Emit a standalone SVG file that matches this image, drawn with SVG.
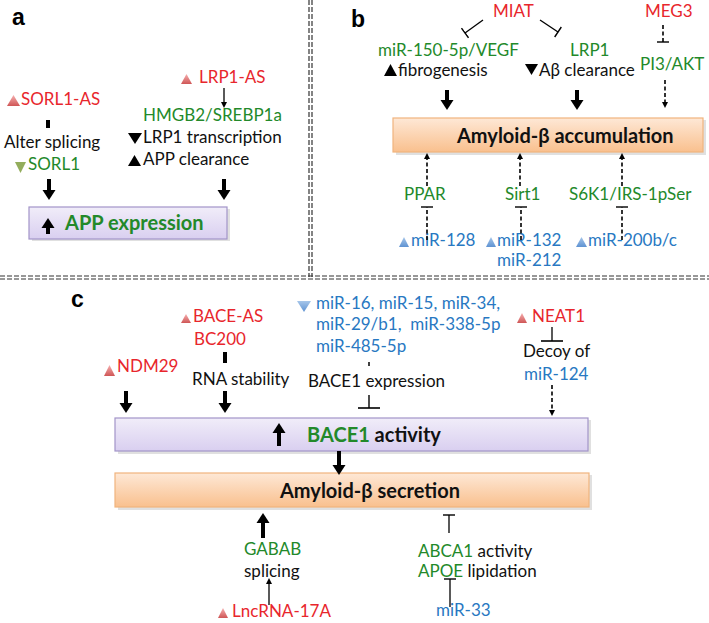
<svg xmlns="http://www.w3.org/2000/svg" width="709" height="623" viewBox="0 0 709 623">
<style>
text{font-family:Lato,"Liberation Sans",sans-serif;font-size:17px;fill:#111;white-space:pre}
.r{fill:#e8262c}.g{fill:#23892a}.b{fill:#2878c2}.k{fill:#111}
.bold{font-weight:bold;font-size:20px}
.lab{font-family:"Liberation Sans",Arial,sans-serif;font-weight:bold;font-size:23px;fill:#000}
.div{stroke:#333;stroke-width:1.2;stroke-dasharray:5 2;fill:none}
.thick{stroke:#000;stroke-width:4;fill:none;marker-end:url(#ah)}
.thin{stroke:#000;stroke-width:1.3;fill:none;marker-end:url(#as)}
.dash{stroke:#000;stroke-width:1.6;stroke-dasharray:4 2.5;fill:none;marker-end:url(#as)}
.tee{stroke:#000;stroke-width:1.3;fill:none;marker-end:url(#tb)}
.dtee{stroke:#000;stroke-width:1.6;stroke-dasharray:4 2.5;fill:none;marker-end:url(#tb)}
.bar{stroke:#000;stroke-width:4;fill:none}
.tr{fill:url(#gRed)}.tb{fill:url(#gBlue)}
.lav{fill:url(#gLav);stroke:#a294c8;stroke-width:1.2}
.pch{fill:url(#gPch);stroke:#f0b47e;stroke-width:1.2}
.sh{fill:#000;opacity:0.12}
</style>
<defs>
<linearGradient id="gRed" x1="0" y1="0" x2="0" y2="1"><stop offset="0" stop-color="#f6b0b0"/><stop offset="1" stop-color="#cf5656"/></linearGradient>
<linearGradient id="gBlue" x1="0" y1="0" x2="0" y2="1"><stop offset="0" stop-color="#a6c6ea"/><stop offset="1" stop-color="#5f93d2"/></linearGradient>
<linearGradient id="gLav" x1="0" y1="0" x2="0" y2="1"><stop offset="0" stop-color="#f1edf9"/><stop offset="1" stop-color="#d9cff0"/></linearGradient>
<linearGradient id="gPch" x1="0" y1="0" x2="0" y2="1"><stop offset="0" stop-color="#fee8d6"/><stop offset="1" stop-color="#f9c08e"/></linearGradient>
<marker id="ah" markerUnits="userSpaceOnUse" markerWidth="12" markerHeight="14" refX="0" refY="7" orient="auto"><path d="M0,0.5 L10,7 L0,13.5 z" fill="#000"/></marker>
<marker id="as" markerUnits="userSpaceOnUse" markerWidth="8" markerHeight="8" refX="0" refY="4" orient="auto"><path d="M0,1 L6,4 L0,7 z" fill="#000"/></marker>
<marker id="tb" markerUnits="userSpaceOnUse" markerWidth="4" markerHeight="14" refX="1" refY="7" orient="auto"><path d="M1,1 L1,13" stroke="#000" stroke-width="1.4"/></marker>
<marker id="tbw" markerUnits="userSpaceOnUse" markerWidth="4" markerHeight="24" refX="1" refY="12" orient="auto"><path d="M1,1 L1,23" stroke="#000" stroke-width="1.6"/></marker>
</defs>
<rect width="709" height="623" fill="#fff"/>

<g id="dividers">
<path class="div" d="M309,0 V277 M312,0 V277"/>
<path class="div" d="M0,276 H709 M0,279 H709"/>
</g>

<g id="labels">
<text class="lab" x="12" y="25">a</text>
<text class="lab" x="351" y="27">b</text>
<text class="lab" x="71" y="307">c</text>
</g>

<!-- Panel a -->
<g id="sorl1-as"><polygon class="tr" points="7,106 13.5,95 20,106"/><text class="r" x="21" y="105">SORL1-AS</text></g>
<g id="alter-splicing"><text x="4" y="148">Alter splicing</text></g>
<g id="sorl1"><polygon fill="#93ad5c" points="15,162 26,162 20.5,173"/><text class="g" x="28" y="170">SORL1</text></g>
<g id="lrp1-as"><polygon class="tr" points="181,84 186.5,74 192,84"/><text class="r" x="199" y="83">LRP1-AS</text></g>
<g id="hmgb2"><text class="g" x="143" y="121">HMGB2/SREBP1a</text>
<polygon points="128,133 142,133 135,144" fill="#000"/><text x="143" y="143">LRP1 transcription</text>
<polygon points="128,166 134.5,155 141,166" fill="#000"/><text x="143" y="165">APP clearance</text></g>
<g id="app-expression"><rect class="sh" x="32" y="209" width="198" height="32"/><rect class="lav" x="29" y="207" width="198" height="32"/>
<text class="bold g" x="65" y="230">APP expression</text></g>

<!-- Panel b -->
<g id="miat"><text class="r" x="493" y="17">MIAT</text></g>
<g id="meg3"><text class="r" x="645" y="17">MEG3</text></g>
<g id="mir150"><text class="g" x="378" y="56">miR-150-5p/VEGF</text>
<polygon points="384,76 390.5,64 397,76" fill="#000"/><text x="398" y="76">fibrogenesis</text></g>
<g id="lrp1"><text class="g" x="570" y="56">LRP1</text>
<polygon points="525,64 538,64 531.5,75" fill="#000"/><text x="539" y="76">Aβ clearance</text></g>
<g id="pi3akt"><text class="g" x="640" y="70">PI3/AKT</text></g>
<g id="ab-accumulation"><rect class="sh" x="396" y="120" width="310" height="35"/><rect class="pch" x="393" y="118" width="310" height="34"/>
<text class="bold k" x="457" y="143">Amyloid-β accumulation</text></g>
<g id="ppar"><text class="g" x="404" y="200">PPAR</text></g>
<g id="sirt1"><text class="g" x="505" y="200">Sirt1</text></g>
<g id="s6k1"><text class="g" x="569" y="200">S6K1/IRS-1pSer</text></g>
<g id="mir128"><polygon class="tb" points="399,247 404,237 409,247"/><text class="b" x="411" y="246">miR-128</text></g>
<g id="mir132"><polygon class="tb" points="486,247 491,237 496,247"/><text class="b" x="497" y="246">miR-132</text><text class="b" x="497" y="266">miR-212</text></g>
<g id="mir200"><polygon class="tb" points="576,247 581.5,237 587,247"/><text class="b" x="588" y="246">miR-200b/c</text></g>

<!-- Panel c -->
<g id="bace-as"><polygon class="tr" points="181,323 186,314 191,323"/><text class="r" x="193" y="322">BACE-AS</text><text class="r" x="194" y="345">BC200</text></g>
<g id="ndm29"><polygon class="tr" points="104,376 109.5,365 115,376"/><text class="r" x="117" y="372">NDM29</text></g>
<g id="rna-stability"><text x="192" y="385">RNA stability</text></g>
<g id="mirs"><polygon class="tb" points="297,301 311,301 304,312"/>
<text class="b" x="316" y="309">miR-16, miR-15, miR-34,</text>
<text class="b" x="316" y="330">miR-29/b1,  miR-338-5p</text>
<text class="b" x="316" y="352">miR-485-5p</text></g>
<g id="bace1-expression"><text x="308" y="387">BACE1 expression</text></g>
<g id="neat1"><polygon class="tr" points="517,323 522,313 527,323"/><text class="r" x="532" y="322">NEAT1</text></g>
<g id="decoy"><text x="523" y="357">Decoy of</text><text class="b" x="524" y="380">miR-124</text></g>
<g id="bace1-activity"><rect class="sh" x="118" y="420" width="473" height="34"/><rect class="lav" x="115" y="418" width="473" height="33"/>
<text class="bold" x="307" y="442"><tspan class="g">BACE1</tspan><tspan class="k"> activity</tspan></text></g>
<g id="ab-secretion"><rect class="sh" x="118" y="475" width="474" height="35"/><rect class="pch" x="115" y="473" width="474" height="34"/>
<text class="bold k" x="280" y="498">Amyloid-β secretion</text></g>
<g id="gabab"><text class="g" x="244" y="555">GABAB</text><text x="244" y="577">splicing</text></g>
<g id="lncrna17a"><polygon class="tr" points="218,618 223,608 228,618"/><text class="r" x="232" y="617">LncRNA-17A</text></g>
<g id="abca1"><text x="418" y="557"><tspan class="g">ABCA1</tspan> activity</text><text x="418" y="577"><tspan class="g">APOE</tspan> lipidation</text></g>
<g id="mir33"><text class="b" x="436" y="616">miR-33</text></g>

<g id="connectors">
<!-- a -->
<path class="bar" d="M48,120 V128"/>
<path class="thick" d="M49,179 V190"/>
<path class="thin" d="M224,88 V102"/>
<path class="thick" d="M224,179 V190"/>
<path class="thick" d="M48,234 V228"/>
<!-- b -->
<path class="tee" d="M483,20 L465,33"/>
<path class="tee" d="M540,20 L558,32"/>
<path class="dtee" d="M663,25 V42"/>
<path class="thick" d="M447,90 V100"/>
<path class="thick" d="M577,90 V100"/>
<path class="dash" d="M665,80 V102"/>
<path class="dash" d="M427,186 V159"/>
<path class="dash" d="M520,186 V159"/>
<path class="dash" d="M622,186 V159"/>
<path class="dtee" d="M427,240 V207"/>
<path class="dtee" d="M521,240 V207"/>
<path class="dtee" d="M622,240 V207"/>
<!-- c -->
<path class="bar" d="M225,352 V363"/>
<path class="thick" d="M126,391 V403"/>
<path class="thick" d="M225,391 V403"/>
<path d="M369,362 V366" stroke="#000" stroke-width="1.5"/>
<path d="M369,395 V408" stroke="#000" stroke-width="1.4" fill="none" marker-end="url(#tbw)"/>
<path class="tee" d="M552,327 V341" style="marker-end:url(#tbw)"/>
<path class="dash" d="M552,385 V410"/>
<path class="thick" d="M279,446 V433"/>
<path class="thick" d="M339,451 V465"/>
<path class="thick" d="M263,538 V523"/>
<path class="thin" d="M269,605 V584"/>
<path class="tee" d="M449,533 V515"/>
<path class="tee" d="M450,607 V579"/>
</g>
</svg>
